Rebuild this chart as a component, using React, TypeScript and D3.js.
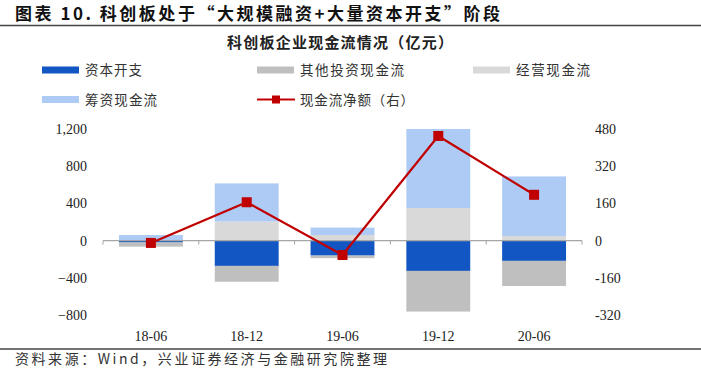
import React from "react";
import * as d3 from "d3";

const categories = ["18-06", "18-12", "19-06", "19-12", "20-06"];
const capex = [-20, -272, -161, -326, -218];
const otherInvest = [-45, -170, -28, -437, -270];
const operating = [5, 205, 60, 350, 50];
const financing = [55, 410, 80, 850, 640];
const netFlow = [-10, 165, -62, 450, 197];
const leftTicks = [-800, -400, 0, 400, 800, 1200];
const rightTicks = [-320, -160, 0, 160, 320, 480];

const seriesNames = ["资本开支", "其他投资现金流", "经营现金流", "筹资现金流", "现金流净额（右）"];
const colors = ["#1156C2", "#BFBFBF", "#D9D9D9", "#ADCBF5", "#C00000"];

const W = 701, H = 373;
const plotL = 103, plotR = 582, plotT = 129, plotB = 315;

export default function App() {
  const x = d3.scaleBand<string>().domain(categories).range([plotL, plotR]).paddingInner(0.333).paddingOuter(0.1667);
  const yL = d3.scaleLinear().domain([-800, 1200]).range([plotB, plotT]);
  const yR = d3.scaleLinear().domain([-320, 480]).range([plotB, plotT]);
  const step = (plotR - plotL) / categories.length;
  const serif = "'Liberation Serif', 'Times New Roman', serif";
  const cjk = "'Noto Sans CJK SC', sans-serif";

  const bars: React.ReactNode[] = [];
  categories.forEach((c, i) => {
    const bx = x(c)!;
    const bw = x.bandwidth();
    const n1 = capex[i], n2 = otherInvest[i];
    bars.push(<rect key={"cap" + i} x={bx} width={bw} y={yL(0)} height={yL(n1) - yL(0)} fill={colors[0]} />);
    bars.push(<rect key={"oth" + i} x={bx} width={bw} y={yL(n1)} height={yL(n1 + n2) - yL(n1)} fill={colors[1]} />);
    const p1 = operating[i], p2 = financing[i];
    bars.push(<rect key={"op" + i} x={bx} width={bw} y={yL(p1)} height={yL(0) - yL(p1)} fill={colors[2]} />);
    bars.push(<rect key={"fin" + i} x={bx} width={bw} y={yL(p1 + p2)} height={yL(p1) - yL(p1 + p2)} fill={colors[3]} />);
  });

  const line = d3.line<number>()
    .x((_, i) => x(categories[i])! + x.bandwidth() / 2)
    .y((d) => yR(d));

  const legendItems = [
    { i: 0, x: 42, y: 70, w: 57 },
    { i: 1, x: 257, y: 70, w: 104 },
    { i: 2, x: 473, y: 70, w: 74 },
    { i: 3, x: 42, y: 99.5, w: 72 },
    { i: 4, x: 257, y: 99.5, w: 114 },
  ];

  return (
    <svg width={W} height={H} style={{ position: "absolute", left: 0, top: 0, background: "#fff" }}>
      <text x={15} y={20} fontFamily={cjk} fontWeight="bold" fontSize={17} fill="#111" textLength={485} lengthAdjust="spacing">图表 10.  科创板处于“大规模融资+大量资本开支”阶段</text>
      <line x1={0} x2={701} y1={25.5} y2={25.5} stroke="#444" strokeWidth={1.3} />
      <text x={227} y={48} fontFamily={cjk} fontWeight="bold" fontSize={15} fill="#222" textLength={226} lengthAdjust="spacing">科创板企业现金流情况（亿元）</text>

      {legendItems.map(({ i, x: lx, y: ly, w }) => (
        <g key={"lg" + i}>
          {i < 4 ? (
            <rect x={lx} y={ly - 3.5} width={37} height={7} fill={colors[i]} />
          ) : (
            <g>
              <line x1={lx} x2={lx + 38} y1={ly} y2={ly} stroke={colors[4]} strokeWidth={2} />
              <rect x={lx + 15} y={ly - 4} width={8} height={8} fill={colors[4]} />
            </g>
          )}
          <text x={lx + 43} y={ly + 5} fontFamily={cjk} fontSize={13.5} fill="#333" textLength={w} lengthAdjust="spacing">{seriesNames[i]}</text>
        </g>
      ))}

      {bars}

      <line x1={plotL} x2={plotR} y1={yL(0)} y2={yL(0)} stroke="#A6A6A6" strokeWidth={1.2} />
      {d3.range(categories.length + 1).map((k) => (
        <line key={"t" + k} x1={plotL + k * step} x2={plotL + k * step} y1={yL(0)} y2={yL(0) + 4} stroke="#A6A6A6" strokeWidth={1} />
      ))}

      <path d={line(netFlow) || ""} fill="none" stroke={colors[4]} strokeWidth={2.2} />
      {netFlow.map((v, i) => (
        <rect key={"m" + i} x={x(categories[i])! + x.bandwidth() / 2 - 5} y={yR(v) - 5} width={10} height={10} fill={colors[4]} />
      ))}

      {leftTicks.map((t) => (
        <text key={"l" + t} x={87} y={yL(t) + 5} textAnchor="end" fontFamily={serif} fontSize={14} fill="#222">{d3.format(",")(t)}</text>
      ))}
      {rightTicks.map((t) => (
        <text key={"r" + t} x={595} y={yR(t) + 5} textAnchor="start" fontFamily={serif} fontSize={14} fill="#222">{t}</text>
      ))}
      {categories.map((c) => (
        <text key={"c" + c} x={x(c)! + x.bandwidth() / 2} y={341} textAnchor="middle" fontFamily={serif} fontSize={14} fill="#222">{c}</text>
      ))}

      <line x1={0} x2={701} y1={349} y2={349} stroke="#444" strokeWidth={1.3} />
      <text x={15} y={364} fontFamily={cjk} fontSize={14} fill="#333" textLength={372} lengthAdjust="spacing">资料来源：Wind，兴业证券经济与金融研究院整理</text>
    </svg>
  );
}
